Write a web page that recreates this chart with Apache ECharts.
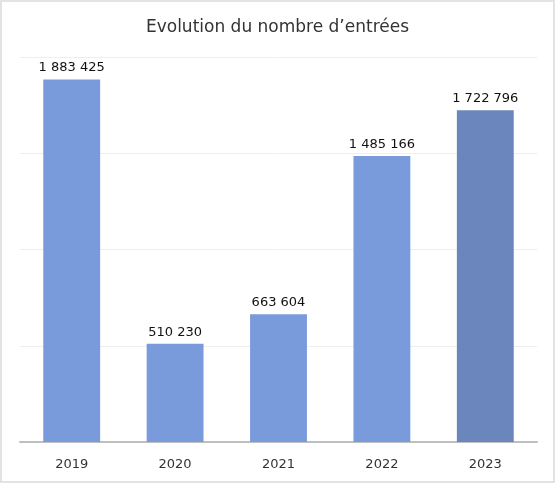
<!DOCTYPE html>
<html><head><meta charset="utf-8">
<script src="https://cdn.jsdelivr.net/npm/echarts@6/dist/echarts.min.js"></script>
<style>html,body{margin:0;padding:0;background:#fff}#c{width:555px;height:483px;box-sizing:border-box;border:2px solid #e3e3e3}</style>
</head><body><div id="c"></div>
<script>
const categories = ['2019','2020','2021','2022','2023'];
const values = [1883425, 510230, 663604, 1485166, 1722796];
const barColors = ['#7A9BDB','#7A9BDB','#7A9BDB','#7A9BDB','#6A86BD'];
const title = 'Evolution du nombre d\u2019entrées';
const FF = '"DejaVu Sans", Verdana, sans-serif';
const fmt = v => String(v).replace(/\B(?=(\d{3})+(?!\d))/g, ' ');
const chart = echarts.init(document.getElementById('c'), null, {renderer:'canvas'});
chart.setOption({
  animation:false,
  title:{text:title,left:'center',top:12,textStyle:{fontFamily:FF,fontSize:17,fontWeight:'normal',color:'#333333'}},
  grid:{left:18,right:16,top:55,bottom:39,containLabel:false},
  xAxis:{type:'category',data:categories,
    axisLine:{lineStyle:{color:'#bfbfbf',width:2}},axisTick:{show:false},
    axisLabel:{fontFamily:FF,fontSize:13,color:'#333333',margin:16}},
  yAxis:{type:'value',min:0,max:2000000,interval:500000,axisLabel:{show:false},
    axisLine:{show:false},axisTick:{show:false},splitLine:{lineStyle:{color:'#eeeeee',width:1}}},
  series:[{type:'bar',barWidth:'55%',
    data:values.map((v,i)=>({value:v,itemStyle:{color:barColors[i]}})),
    label:{show:true,position:'top',distance:5,fontFamily:FF,fontSize:13,color:'#111111',formatter:p=>fmt(p.value)}}]
});
</script></body></html>
